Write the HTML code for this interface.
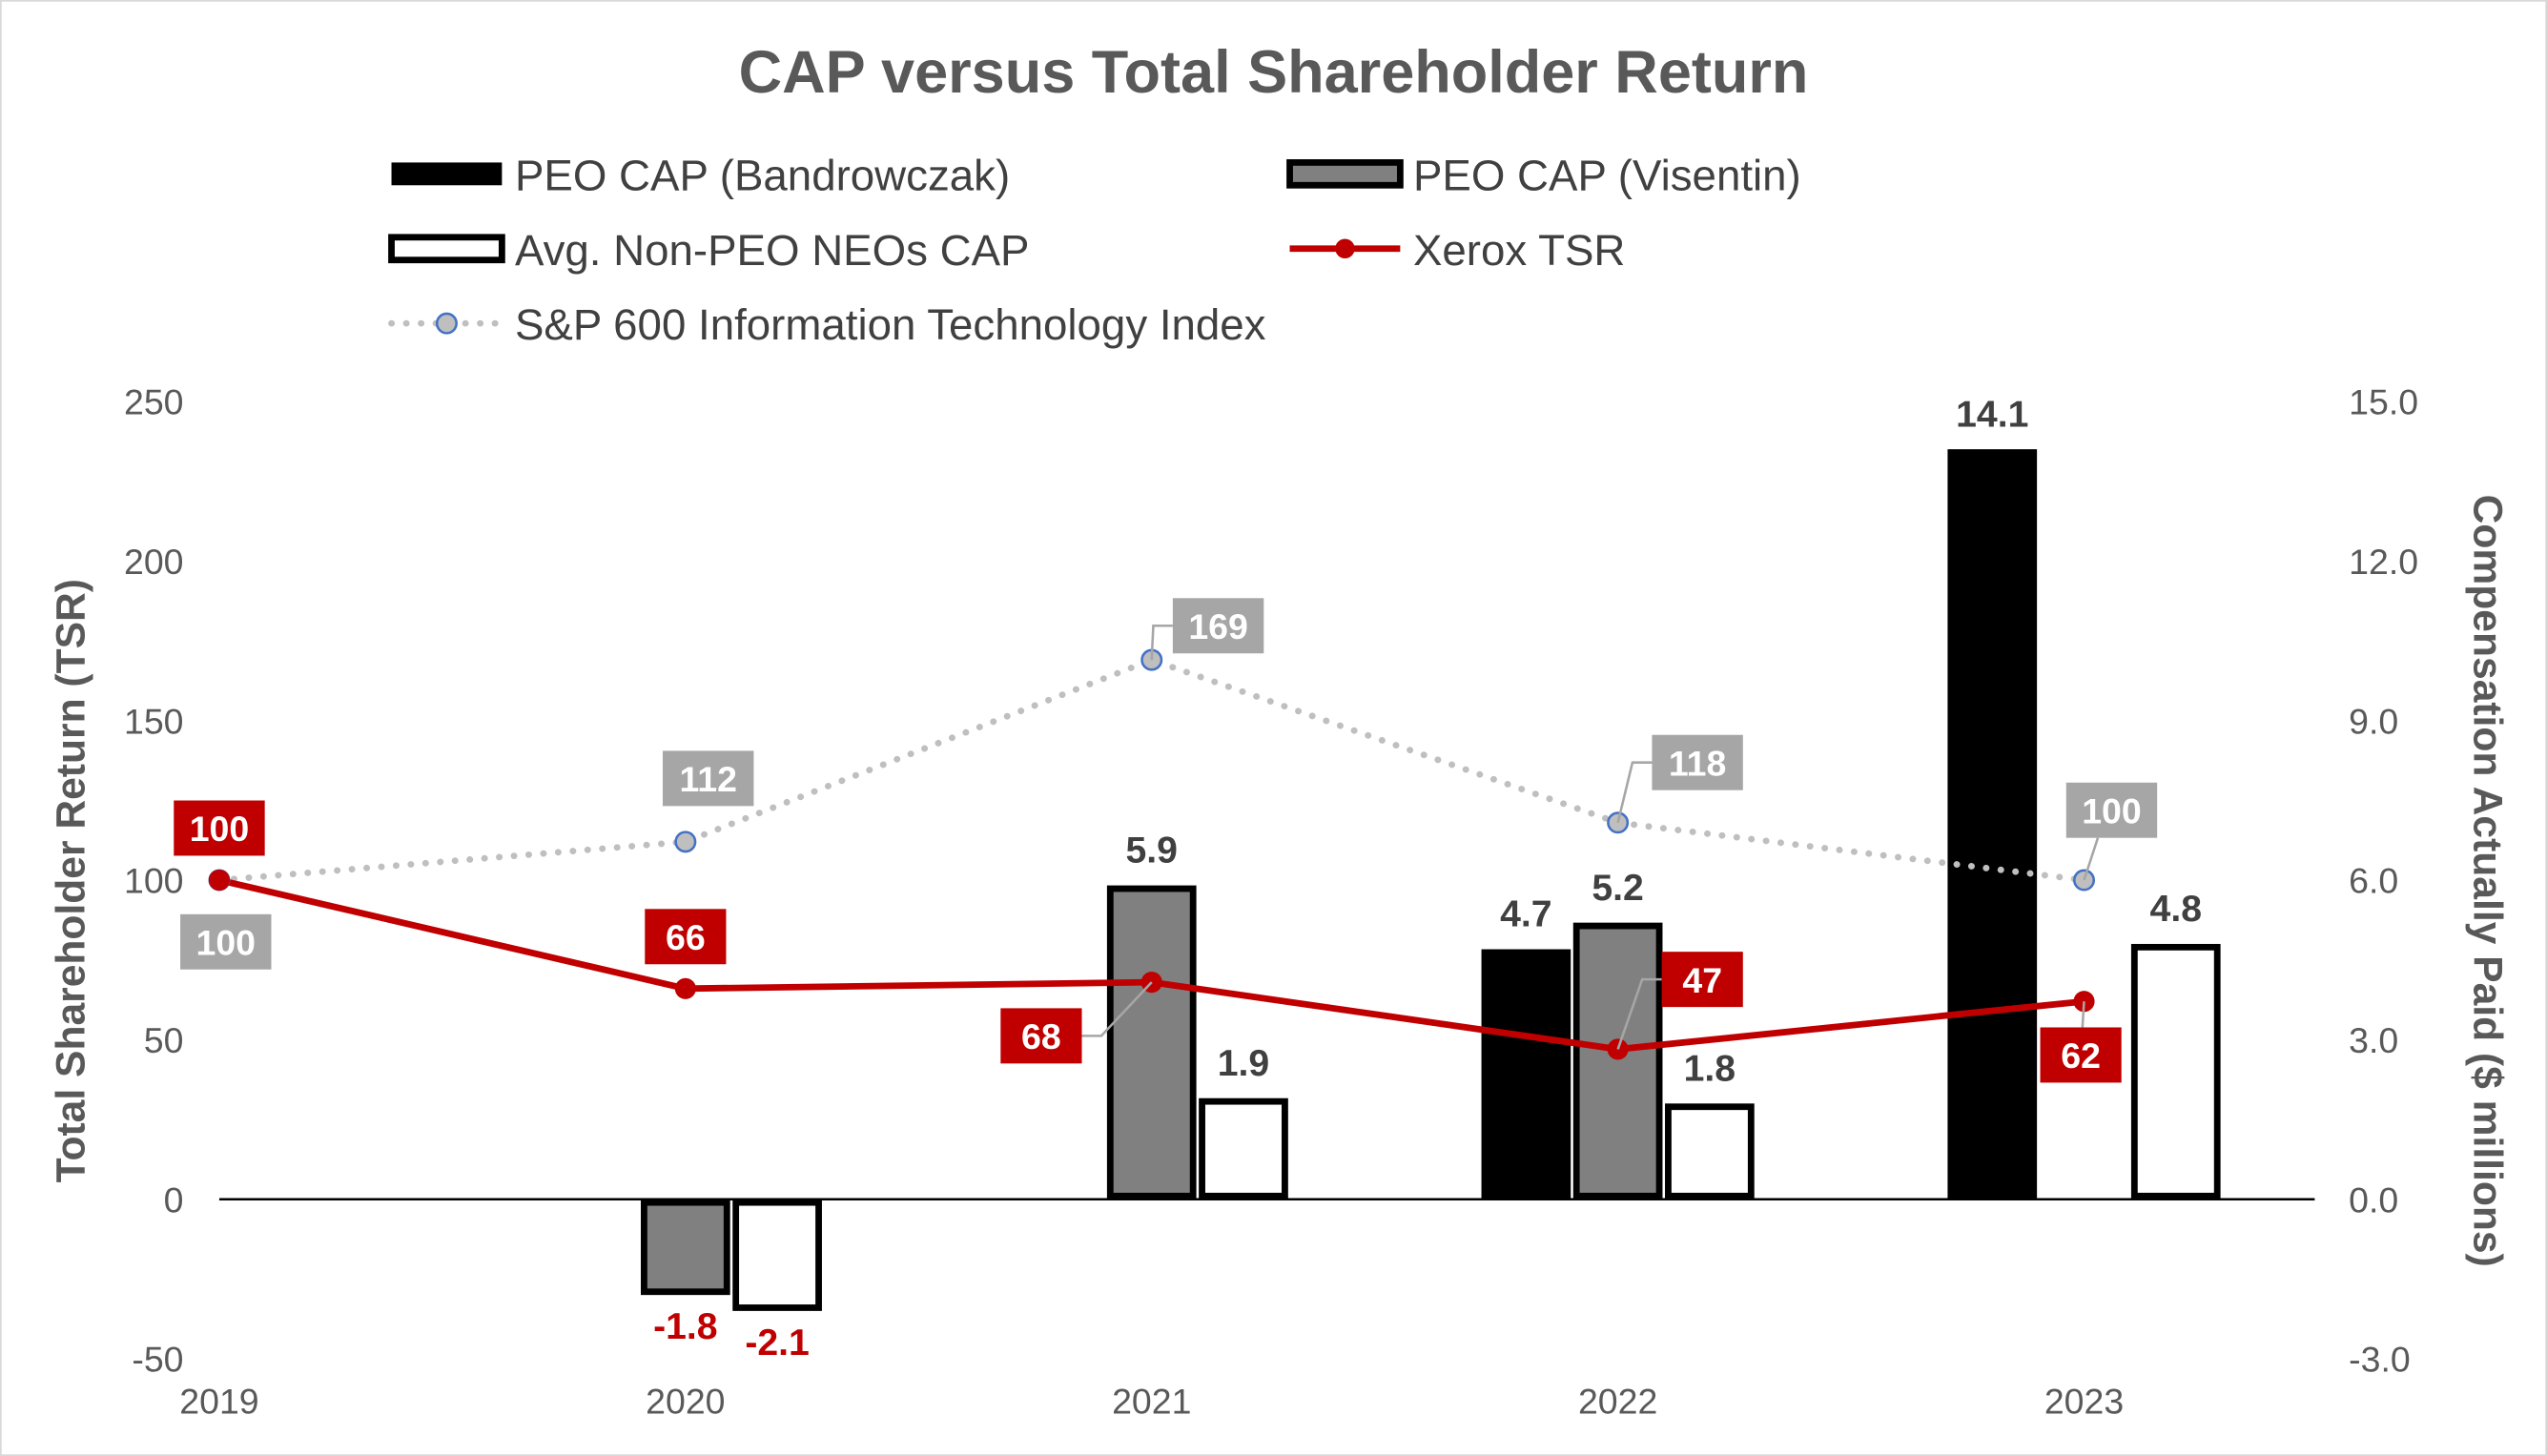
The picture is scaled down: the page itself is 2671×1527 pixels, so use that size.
<!DOCTYPE html>
<html><head><meta charset="utf-8">
<style>
html,body{margin:0;padding:0;background:#fff;}
svg{display:block;font-family:"Liberation Sans",Arial,sans-serif;}
</style></head>
<body>
<svg id="chart" width="2671" height="1527" viewBox="0 0 1568 896" preserveAspectRatio="none" xmlns="http://www.w3.org/2000/svg">
<rect x="0.5" y="0.5" width="1567" height="895" fill="#fff" stroke="#d9d9d9" stroke-width="1"/>
<text x="784" y="57" text-anchor="middle" font-size="37" font-weight="bold" fill="#595959">CAP versus Total Shareholder Return</text>
<g font-size="26.8" fill="#404040">
 <g><rect x="241" y="100" width="68" height="14" fill="#000"/><text x="317" y="117">PEO CAP (Bandrowczak)</text></g>
 <g><rect x="794" y="100" width="68" height="14" fill="#808080" stroke="#000" stroke-width="4"/><text x="870" y="117">PEO CAP (Visentin)</text></g>
 <g><rect x="241" y="146" width="68" height="14" fill="#fff" stroke="#000" stroke-width="4"/><text x="317" y="163">Avg. Non-PEO NEOs CAP</text></g>
 <g><line x1="794" y1="153" x2="862" y2="153" stroke="#c00000" stroke-width="4"/><circle cx="828" cy="153" r="6" fill="#c00000"/><text x="870" y="163">Xerox TSR</text></g>
 <g><line x1="241" y1="199" x2="309" y2="199" stroke="#bfbfbf" stroke-width="4" stroke-dasharray="0.1 9" stroke-linecap="round"/><circle cx="275" cy="199" r="6" fill="#bfbfbf" stroke="#4472c4" stroke-width="1.5"/><text x="317" y="209">S&amp;P 600 Information Technology Index</text></g>
</g>
<text transform="translate(52,542) rotate(-90)" text-anchor="middle" font-size="25" font-weight="bold" fill="#595959">Total Shareholder Return (TSR)</text>
<text transform="translate(1523,542) rotate(90)" text-anchor="middle" font-size="25" font-weight="bold" fill="#595959">Compensation Actually Paid ($ millions)</text>
<g id="axes"></g>
<g id="bars"></g>
<g id="lines"></g>
<g id="labels"></g>
</svg>
<script>
const years = ["2019","2020","2021","2022","2023"];
const leftTicks = [-50,0,50,100,150,200,250];
const rightTicks = [-3,0,3,6,9,12,15];
const bandrowczak = [null,null,null,4.7,14.1];
const visentin = [null,-1.8,5.9,5.2,null];
const nonPeo = [null,-2.1,1.9,1.8,4.8];
const xeroxTsr = [100,66,68,47,62];
const spIndex = [100,112,169,118,100];

const NS="http://www.w3.org/2000/svg";
const x0=135, step=287, yZero=738, yTop=247;
const xs = i => x0 + i*step;
const yL = v => yZero - v*(yZero-yTop)/250;
const yR = v => yZero - v*(yZero-yTop)/15;
function mk(tag, attrs, parent){const e=document.createElementNS(NS,tag);for(const k in attrs)e.setAttribute(k,attrs[k]);parent.appendChild(e);return e;}
const axes=document.getElementById('axes'), bars=document.getElementById('bars'), lines=document.getElementById('lines'), labels=document.getElementById('labels');

leftTicks.forEach(t=>{const e=mk('text',{x:113,y:yL(t)+8,'text-anchor':'end','font-size':22,fill:'#595959'},axes);e.textContent=t;

});
rightTicks.forEach(t=>{const e=mk('text',{x:1446,y:yR(t)+8,'font-size':22,fill:'#595959'},axes);e.textContent=t.toFixed(1);

});
years.forEach((y,i)=>{const e=mk('text',{x:xs(i),y:870,'text-anchor':'middle','font-size':22,fill:'#595959'},axes);e.textContent=y;

});
const ax=mk('line',{x1:135,y1:yZero,x2:1425,y2:yZero,stroke:'#000','stroke-width':1.5},axes);



const bw=55;
const series=[[bandrowczak,-1,'#000','none',0,'bar-bandrowczak'],[visentin,0,'#808080','#000',4,'bar-visentin'],[nonPeo,1,'#fff','#000',4,'bar-non-peo']];
series.forEach(([arr,off,fill,stroke,sw,name])=>{
 arr.forEach((v,i)=>{ if(v===null) return;
  const cx=xs(i)+off*(bw+1.5);
  const y1=yR(Math.max(v,0)), y2=yR(Math.min(v,0));
  const inset=sw/2;
  const r=mk('rect',{x:cx-bw/2+inset,y:y1+inset,width:bw-sw,height:Math.max(y2-y1-sw,0),fill:fill,stroke:stroke,'stroke-width':sw},bars);
  
  
  const t=mk('text',{x:cx,y:v<0?y2+27:y1-14,'text-anchor':'middle','font-size':23,'font-weight':'bold',fill:v<0?'#c00000':'#404040'},labels);
  t.textContent=v.toFixed(1);
  
  
 });
});

const spPts=spIndex.map((v,i)=>xs(i)+','+yL(v)).join(' ');
const sl=mk('polyline',{points:spPts,fill:'none',stroke:'#bfbfbf','stroke-width':4,'stroke-dasharray':'0.1 9','stroke-linecap':'round'},lines);


const xPts=xeroxTsr.map((v,i)=>xs(i)+','+yL(v)).join(' ');
const xl=mk('polyline',{points:xPts,fill:'none',stroke:'#c00000','stroke-width':4},lines);


spIndex.forEach((v,i)=>{const c=mk('circle',{cx:xs(i),cy:yL(v),r:6,fill:'#bfbfbf',stroke:'#4472c4','stroke-width':1.5},lines);

});
xeroxTsr.forEach((v,i)=>{const c=mk('circle',{cx:xs(i),cy:yL(v),r:6.5,fill:'#c00000'},lines);

});

// label box offsets (style only) and leader type: 0 none, 1 elbow, 2 straight
const spOff=[[4,38],[14,-39],[41,-21],[49,-37],[17,-43]];
const spLead=[0,0,1,1,2];
const xrOff=[[0,-32],[0,-32],[-68,33],[52,-43],[-2,33]];
const xrLead=[0,0,1,1,2];
function box(px,py,off,v,fill,name,lead){
 const w=v>=100?56:50, h=34;
 const cx=px+off[0], cy=py+off[1];
 let pts=null;
 if(lead===1){const s=off[0]>0?1:-1;const ex=cx-s*w/2;pts=`${px},${py} ${ex-s*12},${cy} ${ex},${cy}`;}
 if(lead===2){const ey=off[1]>0?cy-h/2:cy+h/2;pts=`${px},${py} ${px+off[0]*0.5},${ey}`;}
 if(pts){const l=mk('polyline',{points:pts,fill:'none',stroke:'#a6a6a6','stroke-width':1.5},labels);
  
  }
 const r=mk('rect',{x:cx-w/2,y:cy-h/2,width:w,height:h,fill:fill},labels);
 
 
 const t=mk('text',{x:cx,y:cy+8,'text-anchor':'middle','font-size':22,'font-weight':'bold',fill:'#fff'},labels);
 t.textContent=v;
 
 
}
spIndex.forEach((v,i)=>box(xs(i),yL(v),spOff[i],v,'#a6a6a6','sp600-label-'+years[i],spLead[i]));
xeroxTsr.forEach((v,i)=>box(xs(i),yL(v),xrOff[i],v,'#c00000','xerox-tsr-label-'+years[i],xrLead[i]));
</script>
</body></html>
